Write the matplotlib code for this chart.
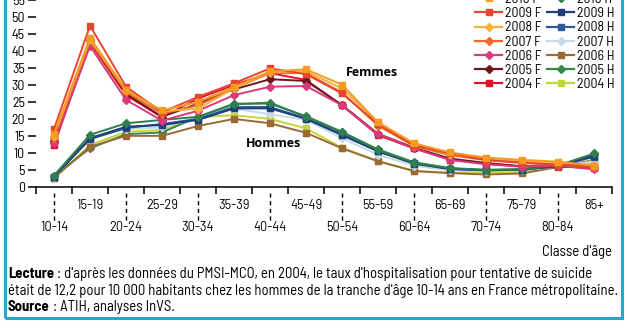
import matplotlib
matplotlib.use("Agg")
import matplotlib.pyplot as plt
from matplotlib.lines import Line2D
from matplotlib.patches import Rectangle
from matplotlib.transforms import blended_transform_factory

plt.rcParams['font.family'] = ['Barlow Semi Condensed', 'DejaVu Sans']

ages = ['10-14', '15-19', '20-24', '25-29', '30-34', '35-39', '40-44', '45-49',
        '50-54', '55-59', '60-64', '65-69', '70-74', '75-79', '80-84', '85+']

# taux pour 10 000 habitants, femmes
f2010 = [15.5, 44.0, 28.5, 22.5, 25.0, 29.5, 34.0, 34.6, 30.1, 19.0, 12.8, 10.1, 8.6, 7.9, 7.4, 6.2]
f2009 = [17.0, 47.5, 29.5, 22.0, 26.5, 30.5, 34.9, 33.2, 27.5, 18.5, 12.2, 9.8, 7.9, 7.1, 6.5, 6.0]
f2008 = [15.0, 43.5, 28.5, 22.3, 23.0, 29.0, 33.9, 34.0, 29.0, 18.8, 12.5, 9.6, 8.3, 7.5, 7.0, 6.3]
f2007 = [14.5, 43.0, 28.0, 21.5, 24.0, 29.0, 33.5, 33.5, 27.8, 18.0, 12.0, 9.3, 7.8, 7.0, 6.5, 5.8]
f2006 = [13.0, 41.5, 25.6, 19.5, 22.4, 27.0, 29.5, 29.7, 24.0, 15.5, 11.3, 7.9, 6.6, 5.9, 6.2, 5.1]
f2005 = [13.5, 43.3, 27.5, 20.6, 24.5, 28.7, 31.7, 31.2, 24.1, 15.6, 11.5, 8.3, 7.0, 6.0, 6.0, 5.5]
f2004 = [12.2, 42.5, 27.0, 20.5, 26.0, 30.0, 33.5, 31.5, 24.0, 15.2, 11.3, 8.0, 6.8, 6.0, 6.0, 5.6]

# hommes
h2010 = [3.3, 15.3, 18.7, 19.7, 20.6, 24.3, 24.8, 20.6, 16.0, 10.8, 7.1, 5.4, 4.9, 5.1, 6.2, 9.8]
h2009 = [3.0, 14.3, 17.7, 18.2, 19.7, 23.1, 23.1, 20.0, 15.2, 10.4, 6.8, 5.2, 4.8, 5.0, 6.0, 9.1]
h2008 = [3.0, 14.0, 17.3, 18.5, 20.0, 23.5, 23.5, 20.2, 15.5, 10.5, 6.9, 5.3, 4.9, 5.0, 6.1, 8.8]
h2007 = [2.8, 14.5, 17.0, 17.5, 20.3, 23.0, 21.4, 19.7, 14.3, 9.4, 6.2, 4.8, 4.5, 4.8, 6.0, 7.5]
h2006 = [2.6, 11.8, 15.0, 15.0, 17.9, 20.0, 18.7, 15.9, 11.3, 7.5, 4.6, 4.0, 3.6, 3.9, 5.8, 7.9]
h2005 = [3.2, 11.3, 15.5, 16.0, 20.6, 24.5, 24.5, 20.8, 16.2, 11.0, 7.2, 5.5, 5.0, 5.2, 6.3, 9.5]
h2004 = [2.5, 12.3, 16.2, 16.7, 20.5, 21.1, 20.0, 17.2, 11.5, 7.6, 4.7, 4.1, 4.1, 4.3, 5.8, 6.9]

series = [
    ('2010 F', f2010, '#f59a23', 's'), ('2009 F', f2009, '#e8452f', 's'),
    ('2008 F', f2008, '#f6b23c', 'D'), ('2007 F', f2007, '#ee6a2c', 'D'),
    ('2006 F', f2006, '#d93a7a', 'D'), ('2005 F', f2005, '#6b1a1c', 'D'),
    ('2004 F', f2004, '#d9142b', 's'),
    ('2010 H', h2010, '#2f7f4f', 'D'), ('2009 H', h2009, '#1d3f7a', 's'),
    ('2008 H', h2008, '#2e5a9c', 's'), ('2007 H', h2007, '#c5dbe8', 'D'),
    ('2006 H', h2006, '#9a6a35', 's'), ('2005 H', h2005, '#35884a', 'D'),
    ('2004 H', h2004, '#c3d43c', 's'),
]

FS = 10
FS_NOTE = 10.6
W, H = 627, 336
fig = plt.figure(figsize=(W / 100, H / 100), dpi=100)
ax = fig.add_axes([36 / W, 1 - 186.7 / H, 576 / W, 186.7 / H])
ax.set_xlim(-0.5, 15.5)
ax.set_ylim(0, 55.07)

x = list(range(len(ages)))
handles = []
for label, vals, color, mk in reversed(series):
    ax.plot(x, vals, color=color, marker=mk, ms=5 if mk == 's' else 4.5,
            lw=1.4, clip_on=False, zorder=3)
for label, vals, color, mk in series:
    handles.append(Line2D([], [], color=color, marker=mk, ms=5 if mk == 's' else 4.5, lw=1.6))

for s in ['top', 'right', 'left']:
    ax.spines[s].set_visible(False)
ax.spines['bottom'].set_linewidth(1.1)

ax.set_yticks(range(0, 56, 5))
ax.tick_params(axis='y', length=6, width=1.1, pad=2, labelsize=FS)
ax.set_xticks([i - 0.5 for i in range(len(ages) + 1)])
ax.set_xticklabels([])
ax.tick_params(axis='x', length=5, width=1.1)

# libelles des classes d'age sur deux rangees, traits pointilles pour la rangee basse
trans = blended_transform_factory(ax.transData, ax.transAxes)
ah = 186.7
for i, a in enumerate(ages):
    if i % 2 == 0:
        ax.add_line(Line2D([i, i], [-6.5 / ah, -34 / ah], transform=trans, color='black',
                           lw=1.0, ls=(0, (3, 2.5)), clip_on=False))
        dy = -41.0
    else:
        dy = -19.0
    ax.annotate(a, xy=(i, 0), xycoords=trans, xytext=(0, dy * 0.72),
                textcoords='offset points', ha='center', va='center', fontsize=9.2,
                family=['Barlow', 'DejaVu Sans'])

ax.text(8.83, 33.8, 'Femmes', fontsize=9, fontweight='bold', family=['Open Sans', 'DejaVu Sans'],
        ha='center', va='center')
ax.text(6.1, 12.6, 'Hommes', fontsize=9, fontweight='bold', family=['Open Sans', 'DejaVu Sans'],
        ha='center', va='center')

fig.legend(handles, [s[0] for s in series], ncol=2, loc='upper left',
           bbox_to_anchor=(475 / W, 1 + 6.8 / H), frameon=False, fontsize=FS,
           handlelength=1.95, handletextpad=0.2, columnspacing=0.4,
           labelspacing=0.08, borderpad=0, borderaxespad=0)

fig.text(612 / W, 1 - 252 / H, "Classe d'âge", ha='right', va='center', fontsize=FS_NOTE)

t1 = fig.text(8 / W, 1 - 274 / H, 'Lecture', fontweight='bold', fontsize=FS_NOTE, va='center')
ax.annotate(" : d'après les données du PMSI-MCO, en 2004, le taux d'hospitalisation pour tentative de suicide",
            xy=(1, 0), xycoords=t1, va='bottom', fontsize=FS_NOTE, annotation_clip=False)
fig.text(8 / W, 1 - 291 / H,
         "était de 12,2 pour 10 000 habitants chez les hommes de la tranche d'âge 10-14 ans en France métropolitaine.",
         fontsize=FS_NOTE, va='center')
t3 = fig.text(8 / W, 1 - 307 / H, 'Source', fontweight='bold', fontsize=FS_NOTE, va='center')
ax.annotate(' : ATIH, analyses InVS.', xy=(1, 0), xycoords=t3, va='bottom', fontsize=FS_NOTE,
            annotation_clip=False)

# cadre bleu autour du graphique
fig.add_artist(Rectangle((5 / W, 1 - 318 / H), 617 / W, 330 / H, transform=fig.transFigure,
                         fill=False, edgecolor='#2aa3cf', lw=2.2, clip_on=False))

fig.savefig('out.png', dpi=100)
